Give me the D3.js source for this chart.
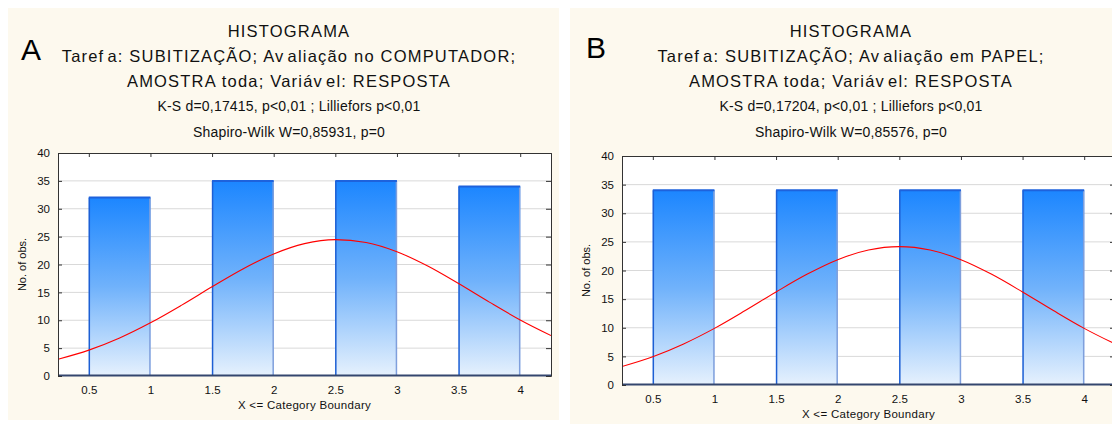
<!DOCTYPE html>
<html>
<head>
<meta charset="utf-8">
<script src="https://cdn.jsdelivr.net/npm/d3@7"></script>
<style>
  body { margin: 0; background: #fff; }
  svg { display: block; font-family: "Liberation Sans", Arial, sans-serif; }
</style>
</head>
<body>
<svg id="chart" width="1112" height="424"></svg>
<script>
// data
var binLower = [0.5, 1.5, 2.5, 3.5];
var binUpper = [1, 2, 3, 4];
var countsA = [32, 35, 35, 34];
var countsB = [34, 34, 34, 34];

// fitted normal curve
var curveX = [0.25, 0.5, 0.75, 1, 1.25, 1.5, 1.75, 2, 2.25, 2.5, 2.75, 3, 3.25, 3.5, 3.75, 4, 4.25];
var curveA = [3.0, 4.64, 6.82, 9.54, 12.67, 16.0, 19.2, 21.89, 23.74, 24.46, 23.95, 22.29, 19.72, 16.58, 13.25, 10.06, 7.26];
var curveB = [3.24, 4.94, 7.17, 9.89, 13.0, 16.25, 19.33, 21.89, 23.58, 24.17, 23.58, 21.89, 19.33, 16.25, 13.0, 9.89, 7.17];

var xTickValues = [0.5, 1, 1.5, 2, 2.5, 3, 3.5, 4];
var yTickValues = [0, 5, 10, 15, 20, 25, 30, 35, 40];

var titlesA = [
  'HISTOGRAMA',
  'Taref|a: SUBITIZAÇÃO; Av|aliação no COMPUTADOR;',
  'AMOSTRA toda; Variáv|el: RESPOSTA'
];
var titlesB = [
  'HISTOGRAMA',
  'Taref|a: SUBITIZAÇÃO; Av|aliação em PAPEL;',
  'AMOSTRA toda; Variáv|el: RESPOSTA'
];
var statsA = ['K-S d=0,17415, p<0,01 ; Lilliefors p<0,01', 'Shapiro-Wilk W=0,85931, p=0'];
var statsB = ['K-S d=0,17204, p<0,01 ; Lilliefors p<0,01', 'Shapiro-Wilk W=0,85576, p=0'];

var chart = d3.select('#chart');

var defs = chart.append('defs');
var grad = defs.append('linearGradient')
    .attr('id', 'barGrad')
    .attr('x1', 0).attr('y1', 0).attr('x2', 0).attr('y2', 1);
grad.append('stop').attr('offset', '0%').attr('stop-color', '#1c86ff');
grad.append('stop').attr('offset', '50%').attr('stop-color', '#70b2fb');
grad.append('stop').attr('offset', '100%').attr('stop-color', '#e6f1fd');

function drawPanel(p) {
  var g = chart.append('g');

  g.append('rect')
      .attr('x', p.box[0]).attr('y', p.box[1])
      .attr('width', p.box[2]).attr('height', p.box[3])
      .attr('fill', '#fdf9ee');

  // letter
  g.append('text')
      .attr('x', p.letterX).attr('y', p.letterY)
      .attr('font-size', 30)
      .attr('fill', '#000')
      .text(p.letter);

  // title lines (| marks the odd gap the original renderer leaves)
  var titleY = [36.5, 61.5, 87];
  p.titles.forEach(function(t, i) {
    var txt = g.append('text')
        .attr('x', p.cx).attr('y', titleY[i])
        .attr('text-anchor', 'middle')
        .attr('font-size', 16.5)
        .attr('letter-spacing', 1.2)
        .attr('fill', '#111');
    t.split('|').forEach(function(part, j) {
      txt.append('tspan').attr('dx', j ? 3 : 0).text(part);
    });
  });

  var statY = [110.5, 137];
  p.stats.forEach(function(t, i) {
    g.append('text')
        .attr('x', p.cx).attr('y', statY[i])
        .attr('text-anchor', 'middle')
        .attr('font-size', 14)
        .attr('letter-spacing', 0.2)
        .attr('fill', '#111')
        .text(t);
  });

  var x = d3.scaleLinear().domain([0.25, 4.25]).range([p.left, p.right]);
  var y = d3.scaleLinear().domain([0, 40]).range([p.bottom, p.top]);

  g.append('rect')
      .attr('x', p.left).attr('y', p.top)
      .attr('width', p.right - p.left).attr('height', p.bottom - p.top)
      .attr('fill', '#fff');

  var clipId = 'clip' + p.letter;
  defs.append('clipPath').attr('id', clipId)
    .append('rect')
      .attr('x', p.left).attr('y', p.top)
      .attr('width', p.right - p.left).attr('height', p.bottom - p.top);

  // gridlines
  g.append('g')
    .selectAll('line')
    .data(yTickValues.slice(1, -1))
    .enter().append('line')
      .attr('x1', p.left).attr('x2', p.right)
      .attr('y1', function(d) { return y(d); })
      .attr('y2', function(d) { return y(d); })
      .attr('stroke', '#d9d9d9')
      .attr('stroke-width', 1);

  // bars
  var bars = g.append('g').selectAll('g')
      .data(p.counts)
    .enter().append('g');

  bars.append('rect')
      .attr('x', function(d, i) { return x(binLower[i]); })
      .attr('y', function(d) { return y(d); })
      .attr('width', function(d, i) { return x(binUpper[i]) - x(binLower[i]); })
      .attr('height', function(d) { return y(0) - y(d); })
      .attr('fill', 'url(#barGrad)');

  bars.append('line')
      .attr('x1', function(d, i) { return x(binLower[i]) + 0.5; })
      .attr('x2', function(d, i) { return x(binLower[i]) + 0.5; })
      .attr('y1', function(d) { return y(d); })
      .attr('y2', y(0))
      .attr('stroke', '#1d5fd4').attr('stroke-width', 1.5);

  bars.append('line')
      .attr('x1', function(d, i) { return x(binUpper[i]) - 0.5; })
      .attr('x2', function(d, i) { return x(binUpper[i]) - 0.5; })
      .attr('y1', function(d) { return y(d); })
      .attr('y2', y(0))
      .attr('stroke', '#7f9fdc').attr('stroke-width', 1.5);

  bars.append('line')
      .attr('x1', function(d, i) { return x(binLower[i]); })
      .attr('x2', function(d, i) { return x(binUpper[i]); })
      .attr('y1', function(d) { return y(d); })
      .attr('y2', function(d) { return y(d); })
      .attr('stroke', '#1e62dc').attr('stroke-width', 2);

  // baseline
  g.append('line')
      .attr('x1', p.left).attr('x2', p.right)
      .attr('y1', y(0) - 0.5).attr('y2', y(0) - 0.5)
      .attr('stroke', '#34466e').attr('stroke-width', 2);

  // normal curve
  var line = d3.line()
      .x(function(d, i) { return x(curveX[i]); })
      .y(function(d) { return y(d); })
      .curve(d3.curveMonotoneX);

  g.append('path')
      .datum(p.curve)
      .attr('clip-path', 'url(#' + clipId + ')')
      .attr('d', line)
      .attr('fill', 'none')
      .attr('stroke', '#ff0000')
      .attr('stroke-width', 1.1);

  // axes
  var yAxis = d3.axisLeft(y).tickValues(yTickValues).tickSize(-4).tickPadding(8);
  var yAxisR = d3.axisRight(y).tickValues(yTickValues).tickSize(-5).tickFormat('');
  var xAxis = d3.axisBottom(x).tickValues(xTickValues).tickSize(0).tickPadding(10)
      .tickFormat(d3.format('~g'));
  var xAxisT = d3.axisTop(x).tickValues(xTickValues).tickSize(-4).tickFormat('');

  var ya = g.append('g')
      .attr('transform', 'translate(' + p.left + ',0)')
      .call(yAxis);
  var yr = g.append('g')
      .attr('transform', 'translate(' + p.right + ',0)')
      .call(yAxisR);
  var xa = g.append('g')
      .attr('transform', 'translate(0,' + p.bottom + ')')
      .call(xAxis);
  var xt = g.append('g')
      .attr('transform', 'translate(0,' + p.top + ')')
      .call(xAxisT);

  [ya, yr, xa, xt].forEach(function(a) {
    a.select('.domain').attr('stroke', '#333');
    a.selectAll('.tick line').attr('stroke', '#333');
    a.selectAll('text')
        .attr('font-family', '"Liberation Sans", Arial, sans-serif')
        .attr('font-size', 11.5)
        .attr('fill', '#111');
  });
  xa.select('.domain').remove();

  // axis labels
  g.append('text')
      .attr('transform', 'translate(' + (p.left - 32) + ',' + ((p.top + p.bottom) / 2) + ') rotate(-90)')
      .attr('text-anchor', 'middle')
      .attr('font-size', 11)
      .attr('fill', '#111')
      .text('No. of obs.');

  g.append('text')
      .attr('x', (p.left + p.right) / 2)
      .attr('y', p.bottom + 33)
      .attr('text-anchor', 'middle')
      .attr('font-size', 11.5)
      .attr('letter-spacing', 0.3)
      .attr('fill', '#111')
      .text('X <= Category Boundary');
}

drawPanel({
  letter: 'A', letterX: 21, letterY: 60,
  box: [8, 8, 551, 412],
  cx: 289,
  left: 58, right: 551, top: 153, bottom: 376,
  titles: titlesA, stats: statsA,
  counts: countsA, curve: curveA
});

drawPanel({
  letter: 'B', letterX: 586, letterY: 58,
  box: [570, 8, 560, 416],
  cx: 851,
  left: 622, right: 1115, top: 156, bottom: 385,
  titles: titlesB, stats: statsB,
  counts: countsB, curve: curveB
});
</script>
</body>
</html>
